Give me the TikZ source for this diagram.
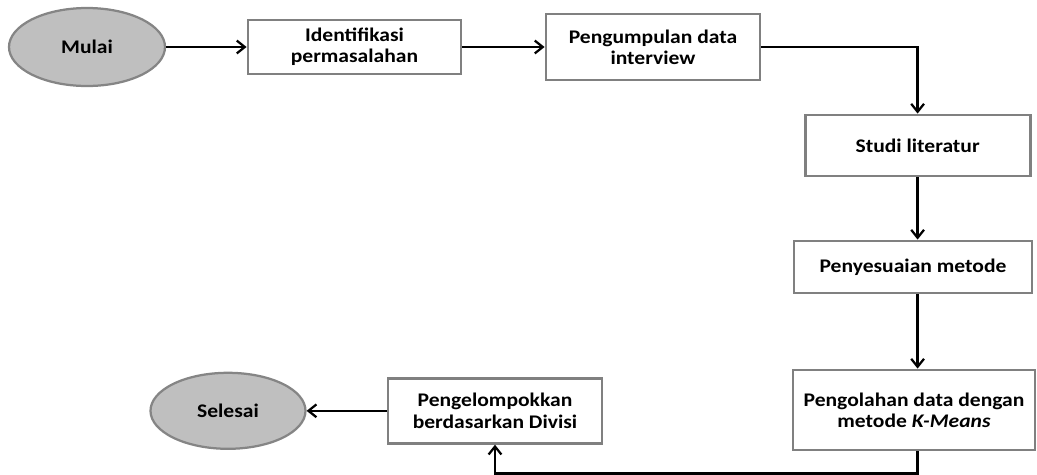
\documentclass[tikz,border=0pt]{standalone}
\usepackage{fontspec}
\setmainfont{Carlito}[FakeStretch=1.12]
\usetikzlibrary{shapes.geometric,arrows.meta}

\definecolor{boxgray}{HTML}{808080}
\definecolor{ovalgray}{HTML}{858585}
\definecolor{ovalfill}{HTML}{BFBFBF}

\begin{document}
\begin{tikzpicture}[
    font=\fontsize{13.7}{15}\selectfont\bfseries,
    proses/.style={draw=boxgray, line width=2pt, fill=white, align=center, inner sep=0pt},
    terminal/.style={ellipse, draw=ovalgray, line width=1.6pt, fill=ovalfill, inner sep=0pt},
    alur/.style={line width=1.6pt, -{Straight Barb[length=2mm,width=3.2mm]}}
  ]

    % Canvas
    \useasboundingbox (0,0) rectangle (25.925,-11.85);

    % Top row
    \node[terminal, minimum width=3.9cm, minimum height=1.95cm] (mulai) at (2.175,-1.175) {Mulai};
    \node[proses, minimum width=5.325cm, minimum height=1.35cm] (identifikasi) at (8.8625,-1.175)
    {Identifikasi\\permasalahan};
    \node[proses, minimum width=5.35cm, minimum height=1.65cm] (pengumpulan) at (16.325,-1.175)
    {Pengumpulan data\\interview};

    % Right column
    \node[proses, minimum width=5.625cm, minimum height=1.525cm] (studi) at (22.94,-3.6375)
    {Studi literatur};
    \node[proses, minimum width=5.95cm, minimum height=1.3cm] (penyesuaian) at (22.825,-6.675)
    {Penyesuaian metode};
    \node[proses, minimum width=6.05cm, minimum height=2cm] (pengolahan) at (22.85,-10.25)
    {Pengolahan data dengan\\metode \textit{K-Means}};

    % Bottom row
    \node[proses, minimum width=5.35cm, minimum height=1.625cm] (pengelompokkan) at (12.375,-10.27)
    {Pengelompokkan\\berdasarkan Divisi};
    \node[terminal, minimum width=3.875cm, minimum height=1.9cm] (selesai) at (5.7,-10.27) {Selesai};

    % Connectors
    \draw[alur] (mulai) -- (identifikasi);
    \draw[alur] (identifikasi) -- (pengumpulan);
    \draw[alur] (pengumpulan.east) -| (studi.north);
    \draw[alur] (studi.south) -- (studi.south |- penyesuaian.north);
    \draw[alur] (studi.south |- penyesuaian.south) -- (studi.south |- pengolahan.north);
    \draw[alur] (studi.south |- pengolahan.south) -- ++(0,-0.55) -| (pengelompokkan.south);
    \draw[alur] (pengelompokkan) -- (selesai);

  \end{tikzpicture}
\end{document}
